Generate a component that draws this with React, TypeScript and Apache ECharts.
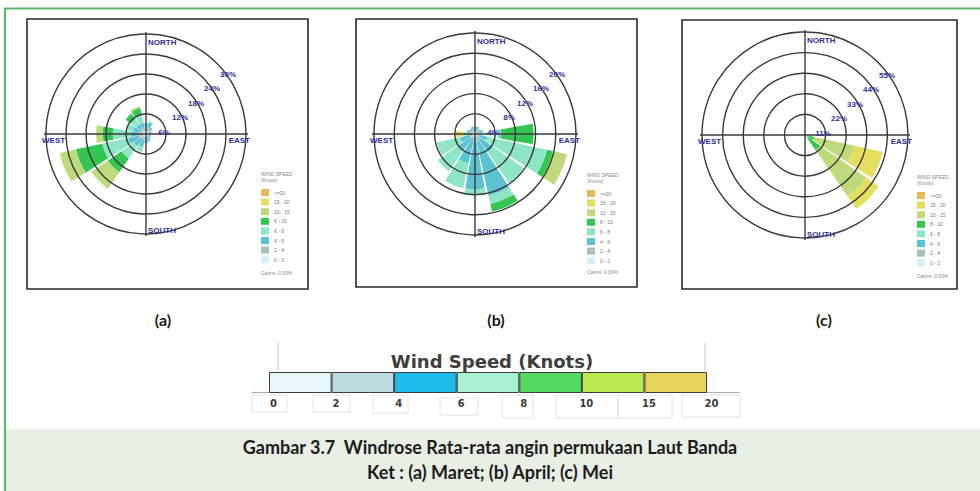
import React, { useEffect, useRef } from "react";
import * as echarts from "echarts";

// ---------- DATA ----------
const directions = ["N", "NNE", "NE", "ENE", "E", "ESE", "SE", "SSE", "S", "SSW", "SW", "WSW", "W", "WNW", "NW", "NNW"];
const speedBins = ["0 - 2", "2 - 4", "4 - 6", "6 - 8", "8 - 10", "10 - 15", "15 - 20", ">=20"];
const roseColors = ["#d6f0f7", "#a8c2c2", "#5bc3d2", "#8ee6c6", "#34c652", "#bfda7c", "#e4df5f", "#e8b85c"];

// frequency (%) per direction (rows) and speed bin (columns)
const maretFreq = [
  [1.0, 1.0, 1.2, 0, 0, 0, 0, 0],
  [1.0, 1.0, 1.5, 0.5, 0, 0, 0, 0],
  [0.8, 0.8, 0.8, 0, 0, 0, 0, 0],
  [0.6, 0.6, 0.5, 0, 0, 0, 0, 0],
  [0.6, 0.5, 0.4, 0, 0, 0, 0, 0],
  [0.6, 0.5, 0.4, 0, 0, 0, 0, 0],
  [0.6, 0.6, 0.6, 0, 0, 0, 0, 0],
  [0.7, 0.7, 1.0, 0, 0, 0, 0, 0],
  [0.8, 0.8, 1.2, 0, 0, 0, 0, 0],
  [1.0, 1.0, 2.0, 1.5, 0, 0, 0, 0],
  [1.0, 1.0, 2.5, 4.5, 5.0, 6.0, 0, 0],
  [1.0, 1.5, 3.0, 8.0, 8.0, 5.0, 0, 0],
  [1.0, 1.0, 2.5, 5.5, 3.0, 2.0, 0, 0],
  [1.0, 1.0, 2.0, 2.0, 0, 0, 0, 0],
  [1.0, 1.0, 1.5, 2.0, 2.0, 0, 0, 0],
  [1.0, 1.0, 1.5, 2.5, 2.0, 0.5, 0, 0],
];
const aprilFreq = [
  [0.5, 0.5, 0.5, 0, 0, 0, 0, 0],
  [0.5, 0.5, 0.5, 0, 0, 0, 0, 0],
  [0.4, 0.4, 0.4, 0, 0, 0, 0, 0],
  [0.5, 0.5, 0.5, 0.3, 0, 0, 0, 0],
  [4.6, 0.2, 0.2, 0.2, 6.4, 0, 0, 0],
  [0.5, 0.5, 1.5, 12.1, 1.2, 2.8, 0, 0],
  [0.5, 0.5, 3.5, 7.5, 0, 0, 0, 0],
  [0.5, 1.0, 11.0, 1.7, 1.5, 0, 0, 0],
  [0.5, 1.0, 9.4, 1.3, 0, 0, 0, 0],
  [0.5, 0.5, 5.0, 5.0, 0, 0, 0, 0],
  [0.5, 0.5, 3.0, 5.0, 0, 0, 0, 0],
  [0.5, 0.5, 2.0, 4.8, 0, 0, 0, 0],
  [0.5, 0.5, 0.8, 0.5, 0, 0, 1.6, 0],
  [0.5, 0.5, 0.5, 0.3, 0, 0, 0, 0],
  [0.5, 0.4, 0.4, 0, 0, 0, 0, 0],
  [0.5, 0.5, 0.5, 0, 0, 0, 0, 0],
];
const meiFreq = [
  [0, 0, 0, 0, 0, 0, 0, 0],
  [0, 0, 0, 0, 0, 0, 0, 0],
  [0, 0, 0, 0, 0, 0, 0, 0],
  [0, 0, 0, 0, 0, 0, 0, 0],
  [0, 0, 0, 0, 0, 0, 0, 0],
  [0.5, 0.5, 0.5, 0.5, 3.0, 22.0, 15.5, 0],
  [0.5, 0.5, 0.5, 0.5, 8.0, 30.0, 8.0, 0],
  [0, 0, 0, 0, 0, 0, 0, 0],
  [0, 0, 0, 0, 0, 0, 0, 0],
  [0, 0, 0, 0, 0, 0, 0, 0],
  [0, 0, 0, 0, 0, 0, 0, 0],
  [0, 0, 0, 0, 0, 0, 0, 0],
  [0, 0, 0, 0, 0, 0, 0, 0],
  [0, 0, 0, 0, 0, 0, 0, 0],
  [0, 0, 0, 0, 0, 0, 0, 0],
  [0, 0, 0, 0, 0, 0, 0, 0],
];

const maretTicks = [6, 12, 18, 24, 30];
const aprilTicks = [4, 8, 12, 16, 20];
const meiTicks = [11, 22, 33, 44, 55];
const compassLabels = ["NORTH", "EAST", "SOUTH", "WEST"];
const panelLabels = ["(a)", "(b)", "(c)"];
const calmsText = ["Calms: 0.00%", "Calms: 0.00%", "Calms: 0.00%"];

const windSpeedTicks = ["0", "2", "4", "6", "8", "10", "15", "20"];
const windSpeedColors = ["#e7f6f9", "#bcdcdf", "#1dbbea", "#a9f0d3", "#53da63", "#baea50", "#e7d45b"];
const windSpeedCells = [1, 1, 1, 1, 1, 1, 1];

const captionLine1 = "Gambar 3.7  Windrose Rata-rata angin permukaan Laut Banda";
const captionLine2 = "Ket : (a) Maret; (b) April; (c) Mei";

// ---------- LAYOUT ----------
const panels = [
  { data: maretFreq, ticks: maretTicks, left: 27, top: 19, w: 281, h: 270, cx: 146, cy: 134, r: 100, legX: 261, legTop: 189, titleY: 174, calmsY: 273, labelX: 163 },
  { data: aprilFreq, ticks: aprilTicks, left: 356, top: 19, w: 281, h: 268, cx: 475, cy: 134, r: 101, legX: 587, legTop: 190, titleY: 175, calmsY: 272, labelX: 496 },
  { data: meiFreq, ticks: meiTicks, left: 682, top: 20, w: 275, h: 269, cx: 805, cy: 135, r: 103, legX: 917, legTop: 192, titleY: 177, calmsY: 276, labelX: 824 },
];

const blue = "#2f2f9c";

function text(x: number, y: number, t: string, opts: any = {}) {
  const align = opts.align || "left";
  return {
    type: "text",
    z: opts.z ?? 20,
    style: {
      text: t,
      x,
      y,
      fill: opts.fill || "#222",
      fontSize: opts.fontSize || 10,
      fontWeight: opts.fontWeight || "normal",
      fontFamily: opts.fontFamily || "Liberation Sans",
      align,
      textAlign: align,
      verticalAlign: "middle",
      textVerticalAlign: "middle",
    },
  };
}

function buildOption() {
  const polar: any[] = [];
  const angleAxis: any[] = [];
  const radiusAxis: any[] = [];
  const series: any[] = [];
  const legend: any[] = [];
  const graphic: any[] = [];

  // page decorations
  graphic.push({ type: "rect", z: 0, shape: { x: 6, y: 429, width: 974, height: 62 }, style: { fill: "#e8efe5" } });
  graphic.push({ type: "line", z: 1, shape: { x1: 4, y1: 8.5, x2: 980, y2: 8.5 }, style: { stroke: "#5cb866", lineWidth: 2 } });
  graphic.push({ type: "line", z: 1, shape: { x1: 5, y1: 8, x2: 5, y2: 491 }, style: { stroke: "#5cb866", lineWidth: 2.2 } });

  panels.forEach((p, pi) => {
    const maxV = p.ticks[p.ticks.length - 1];
    polar.push({ center: [p.cx, p.cy], radius: p.r });
    angleAxis.push({
      polarIndex: pi,
      type: "category",
      data: directions,
      startAngle: 90 + 180 / directions.length,
      clockwise: true,
      boundaryGap: true,
      axisLine: { show: false },
      axisTick: { show: false },
      axisLabel: { show: false },
      splitLine: { show: false },
    });
    radiusAxis.push({
      polarIndex: pi,
      type: "value",
      min: 0,
      max: maxV,
      interval: p.ticks[0],
      z: 6,
      axisLine: { show: false },
      axisTick: { show: false },
      axisLabel: { show: false },
      splitLine: { show: true, lineStyle: { color: "#3a3a3a", width: 1.4 } },
    });
    speedBins.forEach((bin, bi) => {
      series.push({
        name: bin,
        type: "bar",
        coordinateSystem: "polar",
        polarIndex: pi,
        stack: "rose" + pi,
        barCategoryGap: "10%",
        silent: true,
        z: 3,
        data: p.data.map((row) => row[bi]),
        itemStyle: { color: roseColors[bi] },
      });
    });
    legend.push({
      orient: "vertical",
      left: p.legX,
      top: p.legTop,
      padding: 0,
      itemWidth: 8,
      itemHeight: 7,
      itemGap: 2.6,
      selectedMode: false,
      icon: "rect",
      data: [...speedBins].reverse(),
      textStyle: { fontSize: 5, color: "#7a7a7a", fontFamily: "Liberation Sans" },
    });

    // frame
    graphic.push({ type: "rect", z: 1, shape: { x: p.left, y: p.top, width: p.w, height: p.h }, style: { fill: "none", stroke: "#2a2a2a", lineWidth: 1.6 } });
    // cross lines
    graphic.push({ type: "line", z: 4, shape: { x1: p.cx - p.r - 2, y1: p.cy, x2: p.cx + p.r + 2, y2: p.cy }, style: { stroke: "#3a3a3a", lineWidth: 1.4 } });
    graphic.push({ type: "line", z: 4, shape: { x1: p.cx, y1: p.cy - p.r - 2, x2: p.cx, y2: p.cy + p.r + 2 }, style: { stroke: "#3a3a3a", lineWidth: 1.4 } });
    // compass labels
    const cf = { fill: blue, fontSize: 8, fontWeight: "bold" };
    graphic.push(text(p.cx + 2, p.cy - p.r + 8, compassLabels[0], cf));
    graphic.push(text(p.cx + p.r + 4, p.cy + 6, compassLabels[1], { ...cf, align: "right" }));
    graphic.push(text(p.cx + 2, p.cy + p.r - 4, compassLabels[2], cf));
    graphic.push(text(p.cx - p.r - 4, p.cy + 6, compassLabels[3], cf));
    // ring labels
    p.ticks.forEach((t, i) => {
      graphic.push(text(p.cx + 18 + 16 * i, p.cy - 2 - 14.5 * i, t + "%", { ...cf, align: "center" }));
    });
    // legend title + calms
    graphic.push(text(p.legX, p.titleY, "WIND SPEED", { fill: "#8a8a8a", fontSize: 5 }));
    graphic.push(text(p.legX, p.titleY + 6, "(Knots)", { fill: "#8a8a8a", fontSize: 5 }));
    graphic.push(text(p.legX, p.calmsY, calmsText[pi], { fill: "#8a8a8a", fontSize: 5 }));
    // panel label
    graphic.push(text(p.labelX, 319, panelLabels[pi], { align: "center", fontSize: 16, fontWeight: "bold", fontFamily: "Lato", fill: "#1a1a1a" }));
  });

  // wind speed colour bar decorations
  const grey = "#c4c4c4";
  graphic.push({ type: "line", z: 1, shape: { x1: 278, y1: 343, x2: 278, y2: 371 }, style: { stroke: grey, lineWidth: 1 } });
  graphic.push({ type: "line", z: 1, shape: { x1: 705, y1: 343, x2: 705, y2: 371 }, style: { stroke: grey, lineWidth: 1 } });
  graphic.push({ type: "line", z: 1, shape: { x1: 252, y1: 392.5, x2: 269, y2: 392.5 }, style: { stroke: "#b0b0b0", lineWidth: 1.2 } });
  graphic.push({ type: "line", z: 1, shape: { x1: 707, y1: 392.5, x2: 740, y2: 392.5 }, style: { stroke: "#b0b0b0", lineWidth: 1.2 } });
  const boxes = [
    [252, 395, 35, 17],
    [313, 395, 37, 17],
    [373, 395, 35, 18],
    [440, 398, 38, 17],
    [502, 395, 31, 23],
    [556, 395, 62, 23],
    [618, 395, 54, 23],
    [682, 395, 58, 22],
  ];
  boxes.forEach((b) => {
    graphic.push({ type: "rect", z: 1, shape: { x: b[0], y: b[1], width: b[2], height: b[3] }, style: { fill: "none", stroke: "#e2e2e2", lineWidth: 1 } });
  });
  graphic.push(text(492, 361, "Wind Speed (Knots)", { align: "center", fontSize: 18, fontWeight: "bold", fontFamily: "DejaVu Sans", fill: "#3e3e3e" }));

  // captions
  graphic.push(text(490, 447, captionLine1, { align: "center", fontSize: 18, fontWeight: "bold", fontFamily: "Lato", fill: "#1c1c1c" }));
  graphic.push(text(490, 472, captionLine2, { align: "center", fontSize: 18, fontWeight: "bold", fontFamily: "Lato", fill: "#1c1c1c" }));

  // colour bar drawn on a cartesian grid
  const grid = [{ left: 269, top: 372, width: 438, height: 21 }];
  const xAxis = [{
    gridIndex: 0,
    type: "value",
    min: 0,
    max: windSpeedCells.length,
    interval: 1,
    axisLine: { show: false },
    axisTick: { show: false },
    splitLine: { show: false },
    axisLabel: {
      show: true,
      showMinLabel: true,
      showMaxLabel: true,
      margin: 5,
      fontSize: 10,
      fontWeight: "bold",
      fontFamily: "DejaVu Sans",
      color: "#3a3a3a",
      padding: [0, 0, 0, 9],
      formatter: (v: number) => windSpeedTicks[Math.round(v)] ?? "",
    },
  }];
  const yAxis = [{ gridIndex: 0, type: "category", data: ["Knots"], show: false }];
  windSpeedColors.forEach((c, i) => {
    series.push({
      type: "bar",
      xAxisIndex: 0,
      yAxisIndex: 0,
      stack: "speedbar",
      barWidth: 21,
      silent: true,
      data: [windSpeedCells[i]],
      itemStyle: { color: c, borderColor: "#3c3c3c", borderWidth: 1 },
    });
  });

  return {
    animation: false,
    backgroundColor: "#ffffff",
    polar,
    angleAxis,
    radiusAxis,
    grid,
    xAxis,
    yAxis,
    legend,
    graphic: { elements: graphic },
    series,
  };
}

export default function App() {
  const ref = useRef<HTMLDivElement>(null);
  useEffect(() => {
    document.body.style.margin = "0";
    if (!ref.current) return;
    const chart = echarts.init(ref.current, undefined, { renderer: "svg" });
    chart.setOption(buildOption() as any);
    return () => chart.dispose();
  }, []);
  return <div ref={ref} style={{ width: 980, height: 491, position: "absolute", left: 0, top: 0 }} />;
}
